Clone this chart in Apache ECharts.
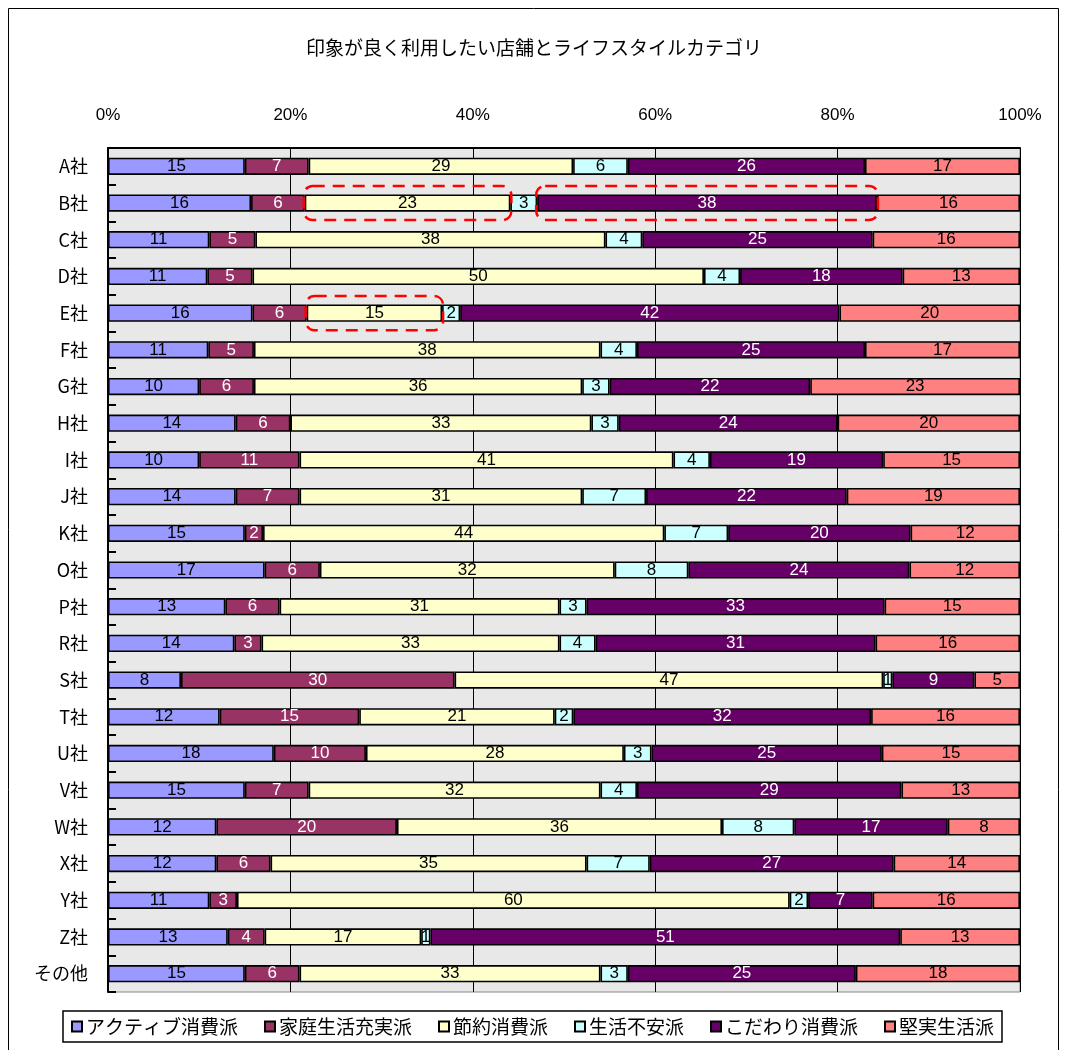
<!DOCTYPE html>
<html>
<head>
<meta charset="utf-8">
<script src="https://cdn.jsdelivr.net/npm/echarts@6/dist/echarts.min.js"></script>
<style>
  html, body { margin: 0; padding: 0; background: #fff; }
  #chart { width: 1068px; height: 1050px; }
</style>
</head>
<body>
<div id="chart"></div>
<script>
// Stores (rows of the stacked bars)
const categories = ['A社', 'B社', 'C社', 'D社', 'E社', 'F社', 'G社', 'H社', 'I社', 'J社', 'K社', 'O社',
  'P社', 'R社', 'S社', 'T社', 'U社', 'V社', 'W社', 'X社', 'Y社', 'Z社', 'その他'];

// Lifestyle categories (stack order, left to right)
const seriesNames = ['アクティブ消費派', '家庭生活充実派', '節約消費派', '生活不安派', 'こだわり消費派', '堅実生活派'];

// Values per lifestyle category, one entry per store
const active   = [15, 16, 11, 11, 16, 11, 10, 14, 10, 14, 15, 17, 13, 14, 8, 12, 18, 15, 12, 12, 11, 13, 15];
const family   = [7, 6, 5, 5, 6, 5, 6, 6, 11, 7, 2, 6, 6, 3, 30, 15, 10, 7, 20, 6, 3, 4, 6];
const saving   = [29, 23, 38, 50, 15, 38, 36, 33, 41, 31, 44, 32, 31, 33, 47, 21, 28, 32, 36, 35, 60, 17, 33];
const anxiety  = [6, 3, 4, 4, 2, 4, 3, 3, 4, 7, 7, 8, 3, 4, 1, 2, 3, 4, 8, 7, 2, 1, 3];
const kodawari = [26, 38, 25, 18, 42, 25, 22, 24, 19, 22, 20, 24, 33, 31, 9, 32, 25, 29, 17, 27, 7, 51, 25];
const kenjitsu = [17, 16, 16, 13, 20, 17, 23, 20, 15, 19, 12, 12, 15, 16, 5, 16, 15, 13, 8, 14, 16, 13, 18];

// Percentage axis ticks
const xTicks = [0, 20, 40, 60, 80, 100];

// Segments outlined with a dashed red frame
const highlights = [
  { category: 'B社', series: 2 },
  { category: 'B社', series: 4 },
  { category: 'E社', series: 2 }
];

const rawSeries = [active, family, saving, anxiety, kodawari, kenjitsu];
const colors = ['#9999ff', '#993366', '#ffffcc', '#ccffff', '#660066', '#ff8080'];
const labelColors = ['#000', '#fff', '#000', '#000', '#fff', '#000'];

// 100% stacked: each row is scaled by its own total
const rowTotals = categories.map((_, i) => rawSeries.reduce((s, arr) => s + arr[i], 0));
const pctSeries = rawSeries.map(arr => arr.map((v, i) => v / rowTotals[i] * 100));

const FONT = '"Noto Sans CJK JP", "Noto Sans", sans-serif';
const NUM_FONT = '"Liberation Sans Narrow", "Liberation Sans", "Noto Sans CJK JP", sans-serif';

const chart = echarts.init(document.getElementById('chart'), null, { renderer: 'canvas' });

chart.setOption({
  animation: false,
  backgroundColor: '#fff',
  textStyle: { fontFamily: FONT },
  title: {
    text: '印象が良く利用したい店舗とライフスタイルカテゴリ',
    left: 'center',
    top: 33,
    textStyle: { fontFamily: FONT, fontSize: 19, fontWeight: 'normal', color: '#000' }
  },
  legend: {
    data: seriesNames,
    left: 63,
    top: 1011,
    orient: 'horizontal',
    icon: 'rect',
    itemWidth: 10,
    itemHeight: 10,
    itemGap: 26,
    padding: [6, 8, 6, 8],
    borderColor: '#000',
    borderWidth: 1.5,
    textStyle: { fontFamily: FONT, fontSize: 19, color: '#000', padding: [0, 0, 0, -1] }
  },
  grid: {
    left: 108,
    right: 48,
    top: 148,
    bottom: 58,
    show: true,
    backgroundColor: '#e8e8e8',
    borderColor: '#888',
    borderWidth: 1
  },
  xAxis: {
    type: 'value',
    position: 'top',
    min: xTicks[0],
    max: xTicks[xTicks.length - 1],
    interval: xTicks[1] - xTicks[0],
    axisLine: { show: true, lineStyle: { color: '#000', width: 2 } },
    axisTick: { show: false },
    axisLabel: {
      margin: 24,
      fontFamily: NUM_FONT,
      fontSize: 17,
      color: '#000',
      formatter: v => v + '%'
    },
    splitLine: { show: true, lineStyle: { color: '#000', width: 1 } }
  },
  yAxis: {
    type: 'category',
    data: categories,
    inverse: true,
    axisLine: { show: true, lineStyle: { color: '#000', width: 2 } },
    axisTick: { show: true, inside: true, length: 8, lineStyle: { color: '#000', width: 2 } },
    axisLabel: { margin: 20, fontFamily: FONT, fontSize: 18, color: '#000' },
    splitLine: { show: false }
  },
  series: seriesNames.map((name, s) => ({
    name: name,
    type: 'bar',
    stack: 'total',
    barWidth: '47%',
    data: pctSeries[s],
    itemStyle: { color: colors[s], borderColor: '#000', borderWidth: 1.6 },
    label: {
      show: true,
      position: 'inside',
      fontFamily: NUM_FONT,
      fontSize: 17,
      color: labelColors[s],
      formatter: p => String(rawSeries[s][p.dataIndex])
    },
    emphasis: { disabled: true }
  }))
});

// Dashed frames around selected segments, positioned through the chart's own axes
function segmentBounds(catIndex, s) {
  let start = 0;
  for (let k = 0; k < s; k++) start += pctSeries[k][catIndex];
  return [start, start + pctSeries[s][catIndex]];
}

const p0 = chart.convertToPixel({ gridIndex: 0 }, [0, categories[0]]);
const p1 = chart.convertToPixel({ gridIndex: 0 }, [0, categories[1]]);
const band = Math.abs(p1[1] - p0[1]);

const frames = highlights.map(h => {
  const ci = categories.indexOf(h.category);
  const [a, b] = segmentBounds(ci, h.series);
  const pa = chart.convertToPixel({ gridIndex: 0 }, [a, h.category]);
  const pb = chart.convertToPixel({ gridIndex: 0 }, [b, h.category]);
  const hgt = band * 0.93;
  return {
    type: 'rect',
    z: 100,
    shape: { x: pa[0] - 1, y: pa[1] - hgt / 2, width: pb[0] - pa[0] + 2, height: hgt, r: 9 },
    style: { fill: 'none', stroke: '#ff0000', lineWidth: 2.5, lineDash: [12, 8] },
    silent: true
  };
});

// Outer frame of the chart sheet
frames.push({
  type: 'polyline',
  z: 100,
  shape: { points: [[8.5, 1050], [8.5, 8.5], [1058.5, 8.5], [1058.5, 1050]] },
  style: { fill: 'none', stroke: '#000', lineWidth: 1 },
  silent: true
});

chart.setOption({ graphic: frames });
</script>
</body>
</html>
